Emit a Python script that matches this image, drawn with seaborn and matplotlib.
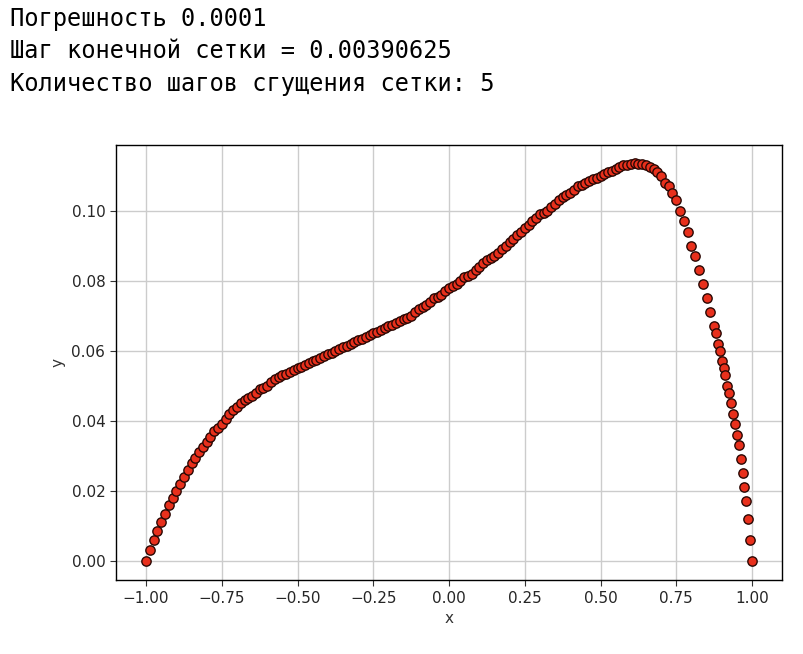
import matplotlib
matplotlib.use("Agg")
import matplotlib.pyplot as plt
import seaborn as sns
import pandas as pd

# (x, y) points
points = [
    (-1.0, 0.0), (-0.9875, 0.003), (-0.975, 0.006), (-0.9625, 0.0085), (-0.95, 0.011),
    (-0.9375, 0.0135), (-0.925, 0.016), (-0.9125, 0.018), (-0.9, 0.020), (-0.8875, 0.022),
    (-0.875, 0.024), (-0.8625, 0.026), (-0.85, 0.028), (-0.8375, 0.0295), (-0.825, 0.031),
    (-0.8125, 0.0325), (-0.8, 0.034), (-0.7875, 0.0355), (-0.775, 0.037), (-0.7625, 0.038),
    (-0.75, 0.039), (-0.7375, 0.0405), (-0.725, 0.042), (-0.7125, 0.043), (-0.7, 0.044),
    (-0.6875, 0.045), (-0.675, 0.046), (-0.6625, 0.0465), (-0.65, 0.047), (-0.6375, 0.048),
    (-0.625, 0.049), (-0.6125, 0.0495), (-0.6, 0.050), (-0.5875, 0.051), (-0.575, 0.052),
    (-0.5625, 0.0525), (-0.55, 0.053), (-0.5375, 0.0535), (-0.525, 0.054), (-0.5125, 0.0545),
    (-0.5, 0.055), (-0.4875, 0.0555), (-0.475, 0.056), (-0.4625, 0.0565), (-0.45, 0.057),
    (-0.4375, 0.0575), (-0.425, 0.058), (-0.4125, 0.0585), (-0.4, 0.059), (-0.3875, 0.0595),
    (-0.375, 0.060), (-0.3625, 0.0605), (-0.35, 0.061), (-0.3375, 0.0615), (-0.325, 0.062),
    (-0.3125, 0.0625), (-0.3, 0.063), (-0.2875, 0.0635), (-0.275, 0.064), (-0.2625, 0.0645),
    (-0.25, 0.065), (-0.2375, 0.0655), (-0.225, 0.066), (-0.2125, 0.0665), (-0.2, 0.067),
    (-0.1875, 0.0675), (-0.175, 0.068), (-0.1625, 0.0685), (-0.15, 0.069), (-0.1375, 0.0695),
    (-0.125, 0.070), (-0.1125, 0.071), (-0.1, 0.072), (-0.0875, 0.0725), (-0.075, 0.073),
    (-0.0625, 0.074), (-0.05, 0.075), (-0.0375, 0.0755), (-0.025, 0.076), (-0.0125, 0.077),
    (0.0, 0.078), (0.0125, 0.0785), (0.025, 0.079), (0.0375, 0.080), (0.05, 0.081),
    (0.0625, 0.0815), (0.075, 0.082), (0.0875, 0.083), (0.1, 0.084), (0.1125, 0.085),
    (0.125, 0.086), (0.1375, 0.0865), (0.15, 0.087), (0.1625, 0.088), (0.175, 0.089),
    (0.1875, 0.090), (0.2, 0.091), (0.2125, 0.092), (0.225, 0.093), (0.2375, 0.094),
    (0.25, 0.095), (0.2625, 0.096), (0.275, 0.097), (0.2875, 0.098), (0.3, 0.099),
    (0.3125, 0.0995), (0.325, 0.100), (0.3375, 0.101), (0.35, 0.102), (0.3625, 0.103),
    (0.375, 0.104), (0.3875, 0.1045), (0.4, 0.105), (0.4125, 0.106), (0.425, 0.107),
    (0.4375, 0.1075), (0.45, 0.108), (0.4625, 0.1085), (0.475, 0.109), (0.4875, 0.1095),
    (0.5, 0.110), (0.5125, 0.1105), (0.525, 0.111), (0.5375, 0.1115), (0.55, 0.112),
    (0.5625, 0.1125), (0.575, 0.113), (0.5875, 0.1132), (0.6, 0.1135), (0.6125, 0.1136),
    (0.625, 0.1135), (0.6375, 0.1133), (0.65, 0.113), (0.6625, 0.1125), (0.675, 0.112),
    (0.6875, 0.111), (0.7, 0.110), (0.7125, 0.108), (0.725, 0.107), (0.7375, 0.105),
    (0.75, 0.103), (0.7625, 0.100), (0.775, 0.097), (0.7875, 0.094), (0.8, 0.090),
    (0.8125, 0.087), (0.825, 0.083), (0.8375, 0.079), (0.85, 0.075), (0.8625, 0.071),
    (0.875, 0.067), (0.88125, 0.065), (0.8875, 0.062), (0.89375, 0.060), (0.9, 0.057),
    (0.90625, 0.055), (0.9125, 0.053), (0.91875, 0.050), (0.925, 0.048), (0.93125, 0.045),
    (0.9375, 0.042), (0.94375, 0.039), (0.95, 0.036), (0.95625, 0.033), (0.9625, 0.029),
    (0.96875, 0.025), (0.975, 0.021), (0.98125, 0.017), (0.9875, 0.012), (0.99375, 0.006),
    (1.0, 0.0),
]
x_vals = [p[0] for p in points]
y_vals = [p[1] for p in points]
x_ticks = [-1.0, -0.75, -0.5, -0.25, 0.0, 0.25, 0.5, 0.75, 1.0]
y_ticks = [0.0, 0.02, 0.04, 0.06, 0.08, 0.10]

header = ["Погрешность 0.0001",
          "Шаг конечной сетки = 0.00390625",
          "Количество шагов сгущения сетки: 5"]

sns.set_style("whitegrid")
df = pd.DataFrame({"x": x_vals, "y": y_vals})

fig = plt.figure(figsize=(8.04, 6.54), dpi=100)
for i, line in enumerate(header):
    fig.text(0.012, 0.99 - i * 0.05, line, family="DejaVu Sans Mono",
             fontsize=17, va="top", ha="left", color="black")

ax = fig.add_axes([0.144, 0.113, 0.829, 0.665])
sns.scatterplot(data=df, x="x", y="y", ax=ax, color="#e8301c",
                edgecolor="#2a0804", linewidth=1.0, s=45, zorder=3)
ax.set_xticks(x_ticks)
ax.set_yticks(y_ticks)
ax.set_xlim(-1.1, 1.1)
ax.set_ylim(-0.0055, 0.1188)
ax.tick_params(labelsize=11, length=4, left=True, bottom=True, color="#333333")
ax.set_xlabel("x", fontsize=11, color="#333333")
ax.set_ylabel("y", fontsize=11, color="#333333")
ax.grid(True, color="#cccccc", linewidth=1.0)
for sp in ax.spines.values():
    sp.set_color("black")
    sp.set_linewidth(1.0)

fig.savefig("out.png", dpi=100)
